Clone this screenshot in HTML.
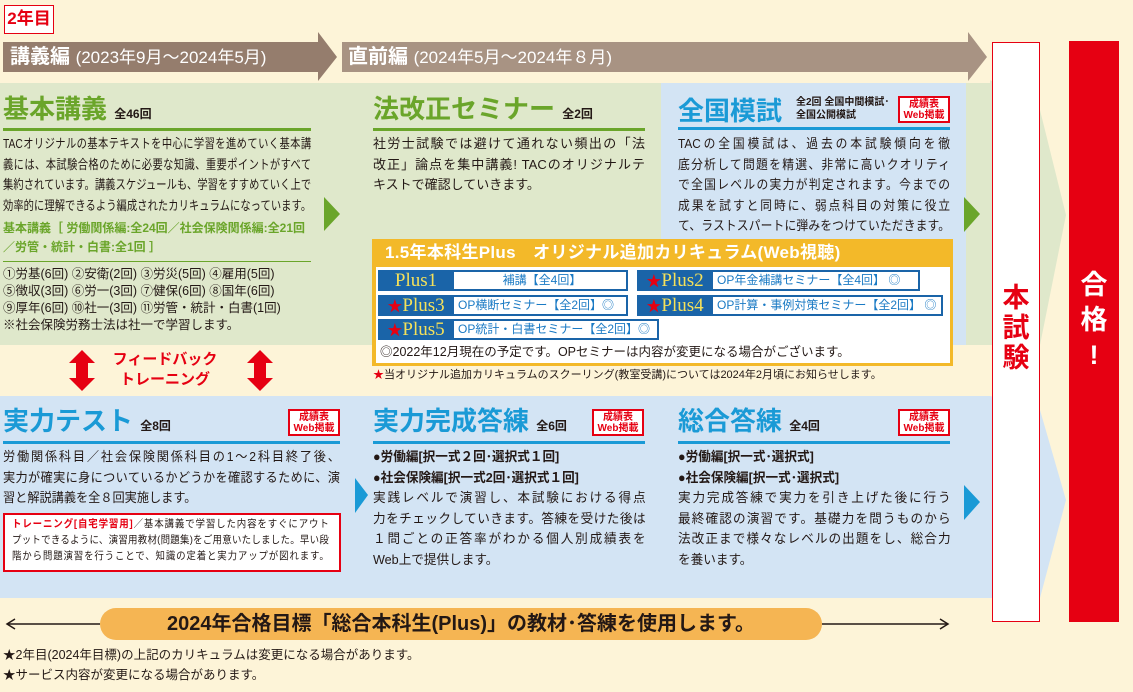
<!DOCTYPE html>
<html><head><meta charset="utf-8">
<style>
*{margin:0;padding:0;box-sizing:border-box}
body{width:1133px;height:692px;background:#fdf4d8;position:relative;overflow:hidden;font-family:"Liberation Sans","Noto Sans CJK JP",sans-serif;color:#231815}
.a{position:absolute}
.t{font-size:13px;line-height:20.5px;white-space:nowrap;transform-origin:0 0}
.t div{text-align:justify;text-align-last:justify}
.t div.e{text-align-last:left}
.h{font-weight:bold;font-size:26px;line-height:34px;white-space:nowrap}
.g{color:#6aa52a}.b{color:#1a9ad6}
.cnt{font-size:12px;font-weight:bold;color:#231815}
.web{position:absolute;border:2px solid #e60012;background:#fff;color:#e60012;font-size:10px;font-weight:bold;line-height:11px;text-align:center;width:52px;height:27px;padding-top:1px}
.pl{position:absolute;height:21px;background:#1a64a8;border:2px solid #1a64a8}
.pl .k{position:absolute;left:0;top:-1px;width:72px;color:#f5e15a;font-family:"Liberation Serif","Noto Serif CJK SC",serif;font-size:19px;line-height:20px;text-align:center;white-space:nowrap}
.pl .k i{color:#e60012;font-style:normal;font-size:15px}
.pl .v{position:absolute;left:74px;right:0;top:0;bottom:0;background:#fff;color:#1a7ac4;font-size:12px;line-height:17px;white-space:nowrap;padding-left:4px}
</style></head><body>
<div class="a" style="left:4px;top:5px;width:50px;height:29px;border:1.5px solid #e60012;background:#fff;color:#e60012;font-weight:bold;font-size:17px;line-height:26px;text-align:center;white-space:nowrap">2年目</div>
<svg class="a" style="left:0;top:30px" width="1000" height="55">
<polygon points="3,12 318,12 318,2 337,27 318,51 318,42 3,42" fill="#957d6d"/>
<polygon points="342,12 968,12 968,2 987,27 968,51 968,42 342,42" fill="#a89383"/>
</svg>
<div class="a" style="left:10px;top:43px;color:#fff;font-size:20px;font-weight:bold;line-height:28px;white-space:nowrap">講義編 <span style="font-weight:normal;font-size:17px">(2023年9月～2024年5月)</span></div>
<div class="a" style="left:348px;top:43px;color:#fff;font-size:20px;font-weight:bold;line-height:28px;white-space:nowrap">直前編 <span style="font-weight:normal;font-size:17px">(2024年5月～2024年８月)</span></div>
<svg class="a" style="left:0;top:0" width="1133" height="692">
<polygon points="0,83 990,83 990,80 1040,110 1066,215 1040,345 0,345" fill="#dfe8cb"/>
<polygon points="0,396 990,396 1040,410 1066,500 1040,598 0,598" fill="#d3e4f4"/>
<rect x="661" y="83" width="305" height="262" fill="#d3e4f4"/>
<polygon points="324,197 340,214 324,231" fill="#6aa52a"/>
<polygon points="964,197 980,214 964,232" fill="#6aa52a"/>
<polygon points="355,478 368,495 355,513" fill="#1a9ad6"/>
<polygon points="964,485 980,502 964,520" fill="#1a9ad6"/>
<polygon points="82,350 95,363 88,363 88,378 95,378 82,391 69,378 76,378 76,363 69,363" fill="#e60012"/>
<polygon points="260,350 273,363 266,363 266,378 273,378 260,391 247,378 254,378 254,363 247,363" fill="#e60012"/>
<line x1="8" y1="624" x2="100" y2="624" stroke="#231815" stroke-width="1.5"/>
<polyline points="15,619 7,624 15,629" fill="none" stroke="#231815" stroke-width="1.5"/>
<line x1="822" y1="624" x2="947" y2="624" stroke="#231815" stroke-width="1.5"/>
<polyline points="940,619 948,624 940,629" fill="none" stroke="#231815" stroke-width="1.5"/>
</svg>
<div class="a" style="left:110px;top:350px;color:#e60012;font-weight:bold;font-size:15px;line-height:20px;text-align:center;width:110px">フィードバック<br>トレーニング</div>

<!-- 基本講義 -->
<div class="a h g" style="left:3px;top:92px">基本講義 <span class="cnt">全46回</span></div>
<div class="a" style="left:3px;top:128px;width:308px;height:3px;background:#6aa52a"></div>
<div class="a t" style="left:3px;top:134px;width:390px;transform:scaleX(.79)">
<div>TACオリジナルの基本テキストを中心に学習を進めていく基本講</div>
<div>義には、本試験合格のために必要な知識、重要ポイントがすべて</div>
<div>集約されています。講義スケジュールも、学習をすすめていく上で</div>
<div>効率的に理解できるよう編成されたカリキュラムになっています。</div></div>
<div class="a" style="left:3px;top:219px;color:#6aa52a;font-weight:bold;font-size:12px;line-height:19px;white-space:nowrap">基本講義［ 労働関係編:全24回／社会保険関係編:全21回<br>／労管・統計・白書:全1回 ］</div>
<div class="a" style="left:3px;top:261px;width:308px;height:1px;background:#6aa52a"></div>
<div class="a" style="left:3px;top:266px;font-size:12.5px;line-height:17px;white-space:nowrap">①労基(6回) ②安衛(2回) ③労災(5回) ④雇用(5回)<br>⑤徴収(3回) ⑥労一(3回) ⑦健保(6回) ⑧国年(6回)<br>⑨厚年(6回) ⑩社一(3回) ⑪労管・統計・白書(1回)<br>※社会保険労務士法は社一で学習します。</div>

<!-- 法改正 -->
<div class="a h g" style="left:373px;top:92px">法改正セミナー <span class="cnt">全2回</span></div>
<div class="a" style="left:373px;top:128px;width:272px;height:3px;background:#6aa52a"></div>
<div class="a t" style="left:373px;top:134px;width:272px">
<div>社労士試験では避けて通れない頻出の「法</div>
<div>改正」論点を集中講義! TACのオリジナルテ</div>
<div class="e">キストで確認していきます。</div></div>

<!-- 全国模試 -->
<div class="a h b" style="left:678px;top:94px">全国模試</div>
<div class="a cnt" style="left:796px;top:96px;font-size:10px;line-height:13px">全2回 全国中間模試･<br>全国公開模試</div>
<div class="web" style="left:898px;top:96px">成績表<br>Web掲載</div>
<div class="a" style="left:678px;top:127px;width:272px;height:3px;background:#1a9ad6"></div>
<div class="a t" style="left:678px;top:134px;width:300px;transform:scaleX(.907)">
<div>TACの全国模試は、過去の本試験傾向を徹</div>
<div>底分析して問題を精選、非常に高いクオリティ</div>
<div>で全国レベルの実力が判定されます。今までの</div>
<div>成果を試すと同時に、弱点科目の対策に役立</div>
<div>て、ラストスパートに弾みをつけていただきます。</div></div>

<!-- Plus box -->
<div class="a" style="left:372px;top:239px;width:581px;height:127px;background:#f3b929"></div>
<div class="a" style="left:376px;top:267px;width:574px;height:96px;background:#fff"></div>
<div class="a" style="left:380px;top:239px;color:#fff;font-weight:bold;font-size:17px;line-height:28px;white-space:nowrap;letter-spacing:0.3px">&nbsp;1.5年本科生Plus　オリジナル追加カリキュラム(Web視聴)</div>
<div class="pl" style="left:378px;top:270px;width:250px"><div class="k">Plus1</div><div class="v" style="text-align:center">補講【全4回】</div></div>
<div class="pl" style="left:637px;top:270px;width:283px"><div class="k"><i>★</i>Plus2</div><div class="v">OP年金補講セミナー【全4回】 ◎</div></div>
<div class="pl" style="left:378px;top:295px;width:250px"><div class="k"><i>★</i>Plus3</div><div class="v">OP横断セミナー【全2回】◎</div></div>
<div class="pl" style="left:637px;top:295px;width:306px"><div class="k"><i>★</i>Plus4</div><div class="v">OP計算・事例対策セミナー【全2回】 ◎</div></div>
<div class="pl" style="left:378px;top:319px;width:281px"><div class="k"><i>★</i>Plus5</div><div class="v">OP統計・白書セミナー【全2回】◎</div></div>
<div class="a" style="left:380px;top:343px;font-size:12.5px;line-height:18px;white-space:nowrap">◎2022年12月現在の予定です。OPセミナーは内容が変更になる場合がございます。</div>
<div class="a" style="left:373px;top:368px;font-size:11px;line-height:15px;white-space:nowrap"><span style="color:#e60012">★</span>当オリジナル追加カリキュラムのスクーリング(教室受講)については2024年2月頃にお知らせします。</div>

<!-- 実力テスト -->
<div class="a h b" style="left:3px;top:404px">実力テスト <span class="cnt">全8回</span></div>
<div class="web" style="left:288px;top:409px">成績表<br>Web掲載</div>
<div class="a" style="left:3px;top:441px;width:337px;height:3px;background:#1a9ad6"></div>
<div class="a t" style="left:3px;top:447px;width:360px;transform:scaleX(.936)">
<div>労働関係科目／社会保険関係科目の1～2科目終了後、</div>
<div>実力が確実に身についているかどうかを確認するために、演</div>
<div class="e">習と解説講義を全８回実施します。</div></div>
<div class="a" style="left:3px;top:513px;width:338px;height:59px;border:2px solid #e60012;background:#fff"></div>
<div class="a t" style="left:12px;top:516px;width:352px;font-size:10.5px;line-height:16px;transform:scaleX(.9)">
<div><b style="color:#e60012">トレーニング[自宅学習用]</b>／基本講義で学習した内容をすぐにアウト</div>
<div>プットできるように、演習用教材(問題集)をご用意いたしました。早い段</div>
<div>階から問題演習を行うことで、知識の定着と実力アップが図れます。</div></div>

<!-- 実力完成答練 -->
<div class="a h b" style="left:373px;top:404px">実力完成答練 <span class="cnt">全6回</span></div>
<div class="web" style="left:592px;top:409px">成績表<br>Web掲載</div>
<div class="a" style="left:373px;top:441px;width:272px;height:3px;background:#1a9ad6"></div>
<div class="a t" style="left:373px;top:447px;width:281px;transform:scaleX(.97)">
<div class="e"><b>●労働編[択一式２回･選択式１回]</b></div>
<div class="e"><b>●社会保険編[択一式2回･選択式１回]</b></div>
<div>実践レベルで演習し、本試験における得点</div>
<div>力をチェックしていきます。答練を受けた後は</div>
<div>１問ごとの正答率がわかる個人別成績表を</div>
<div class="e">Web上で提供します。</div></div>

<!-- 総合答練 -->
<div class="a h b" style="left:678px;top:404px">総合答練 <span class="cnt">全4回</span></div>
<div class="web" style="left:898px;top:409px">成績表<br>Web掲載</div>
<div class="a" style="left:678px;top:441px;width:272px;height:3px;background:#1a9ad6"></div>
<div class="a t" style="left:678px;top:447px;width:281px;transform:scaleX(.97)">
<div class="e"><b>●労働編[択一式･選択式]</b></div>
<div class="e"><b>●社会保険編[択一式･選択式]</b></div>
<div>実力完成答練で実力を引き上げた後に行う</div>
<div>最終確認の演習です。基礎力を問うものから</div>
<div>法改正まで様々なレベルの出題をし、総合力</div>
<div class="e">を養います。</div></div>

<!-- 本試験 / 合格 -->
<div class="a" style="left:992px;top:42px;width:48px;height:580px;border:1.5px solid #e60012;background:#fff"></div>
<div class="a" style="left:992px;top:283px;width:48px;color:#e60012;font-weight:bold;font-size:27px;line-height:30px;text-align:center">本<br>試<br>験</div>
<div class="a" style="left:1069px;top:41px;width:50px;height:581px;background:#e60012"></div>
<div class="a" style="left:1069px;top:268px;width:50px;color:#fff;font-weight:bold;font-size:27px;line-height:35px;text-align:center">合<br>格<br>!</div>

<div class="a" style="left:100px;top:608px;width:722px;height:32px;background:#f5b553;border-radius:16px;font-weight:bold;font-size:20px;line-height:32px;text-align:center;white-space:nowrap">2024年合格目標「総合本科生(Plus)」の教材･答練を使用します。</div>
<div class="a" style="left:3px;top:645px;font-size:12.5px;line-height:20px;white-space:nowrap">★2年目(2024年目標)の上記のカリキュラムは変更になる場合があります。<br>★サービス内容が変更になる場合があります。</div>
</body></html>
